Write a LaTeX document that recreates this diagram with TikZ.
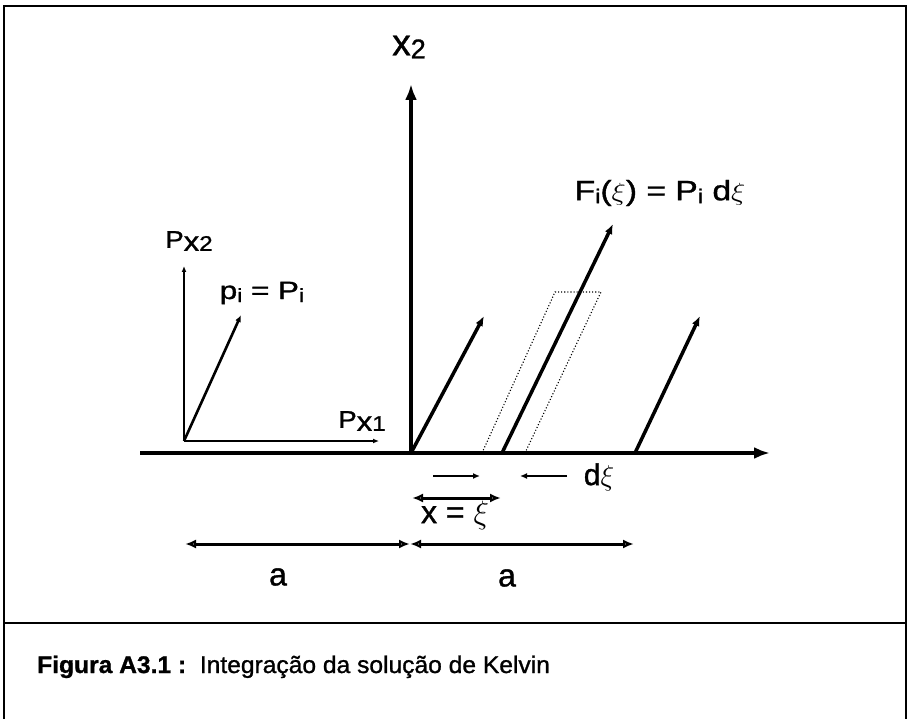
\documentclass[tikz,border=0pt]{standalone}
\usepackage{fontspec}
\setmainfont{Liberation Sans}
\newfontfamily\heavy{Liberation Sans}[FakeBold=1.1]
\usetikzlibrary{arrows.meta}
\newcommand\mysub[2]{\raisebox{-#1pt}{#2}}
\newcommand\fs[1]{\fontsize{#1}{#1}\selectfont}
\begin{document}
\begin{tikzpicture}[x=1pt,y=-1pt,
  axis/.style={line width=4.4pt,-{Latex[length=16pt,width=12pt]}},
  vec/.style={line width=3.5pt,-{Latex[length=10pt,width=8pt]}},
  pvec/.style={line width=2.6pt,-{Latex[length=7pt,width=6pt]}},
  thinaxis/.style={line width=2pt,-{Latex[length=6pt,width=5pt]}},
  shortarr/.style={line width=2.6pt,-{Latex[length=7pt,width=6pt]}},
  dimarrow/.style={line width=3pt,{Latex[open,length=11pt,width=9pt]}-{Latex[open,length=11pt,width=9pt]}},
  frame/.style={line width=2.6pt},
  dotbox/.style={dotted,line width=1.1pt},
  lbl/.style={inner sep=0pt,font=\heavy}
]
\useasboundingbox (0,0) rectangle (908,719);
% frame
\draw[frame] (4,719) -- (4,6) -- (906,6) -- (906,719);
\draw[frame] (4,623) -- (906,623);

% main axes
\coordinate (O) at (411,453);
\coordinate (x1start) at (140,453);
\coordinate (x1end) at (770,453);
\coordinate (x2end) at (411,84);
\draw[axis] (x1start) -- (x1end);
\draw[axis] (O) -- (x2end);
\node[lbl] (x2lbl) at (409,47) {\fs{37}x\mysub{3}{\fs{27}2}};

% small force axes
\coordinate (Po) at (184,441);
\coordinate (Px2end) at (184,266);
\coordinate (Px1end) at (379,441);
\coordinate (ptip) at (241,315);
\draw[thinaxis] (Po) -- (Px2end);
\draw[thinaxis] (Po) -- (Px1end);
\draw[pvec] (Po) -- (ptip);
\node[lbl] (px2lbl) at (189,241) {\scalebox{1.15}[1]{\fs{24}P\mysub{3}{\fs{27}x\fs{21}2}}};
\node[lbl] (px1lbl) at (362,421) {\scalebox{1.15}[1]{\fs{24}P\mysub{3}{\fs{27}x\fs{21}1}}};
\node[lbl] (pilbl) at (262,293) {\scalebox{1.25}[1]{\fs{25}p\mysub{3}{\fs{19}i} = P\mysub{3}{\fs{19}i}}};

% force vectors on the half plane
\coordinate (v1s) at (411,453);
\coordinate (v1e) at (484,316);
\coordinate (v2s) at (502,453);
\coordinate (v2e) at (613,224);
\coordinate (v3s) at (635,453);
\coordinate (v3e) at (700,316);
\draw[vec] (v1s) -- (v1e);
\draw[vec] (v2s) -- (v2e);
\draw[vec] (v3s) -- (v3e);
\node[lbl] (flbl) at (660,193) {\scalebox{1.2}[1]{\fs{28}F\mysub{3}{\fs{20}i}($\xi$) = P\mysub{3}{\fs{20}i} d$\xi$}};

% dotted strip
\coordinate (d1) at (482,453);
\coordinate (d2) at (555,292);
\coordinate (d3) at (601,292);
\coordinate (d4) at (525,453);
\draw[dotbox] (d1) -- (d2) -- (d3) -- (d4);

% d xi markers
\coordinate (s1a) at (433,476);
\coordinate (s1b) at (480,476);
\coordinate (s2a) at (567,476);
\coordinate (s2b) at (520,476);
\draw[shortarr] (s1a) -- (s1b);
\draw[shortarr] (s2a) -- (s2b);
\node[lbl] (dxilbl) at (599,477) {\fs{30}d\scalebox{1.15}{$\xi$}};

% x = xi
\coordinate (xa) at (412,498);
\coordinate (xb) at (501,498);
\draw[dimarrow] (xa) -- (xb);
\node[lbl] (xlbl) at (455,515) {\fs{32}x = \scalebox{1.3}{$\xi$}};

% a dimensions
\coordinate (a0) at (185,544);
\coordinate (a1) at (410,544);
\coordinate (a2) at (634,544);
\draw[dimarrow] (a0) -- (a1);
\draw[dimarrow] (a1) -- (a2);
\node[lbl] (alblL) at (278,577) {\fs{32}a};
\node[lbl] (alblR) at (507,578) {\fs{32}a};

% caption
\node[lbl,anchor=base west] (cap) at (37,673) {\scalebox{1.025}[1]{\fs{24}\textbf{Figura A3.1 :}\ \ Integração da solução de Kelvin}};
\end{tikzpicture}
\end{document}
